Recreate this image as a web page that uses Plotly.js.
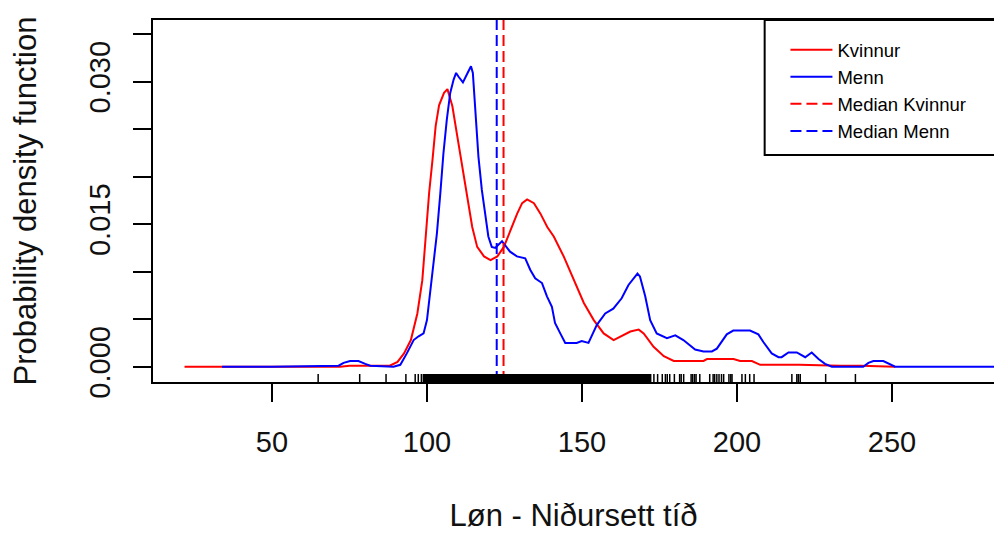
<!DOCTYPE html>
<html>
<head>
<meta charset="utf-8">
<script src="https://cdn.plot.ly/plotly-3.0.1.min.js"></script>
<style>html,body{margin:0;padding:0;background:#fff;overflow:hidden}</style>
</head>
<body>
<div id="chart" style="width:994px;height:536px"></div>
<script>
// Density of "Kvinnur" (women)
const kvinnurX = [21.8, 40, 60, 72, 75, 82, 88, 90.5, 92.6, 94.8, 96.9, 98.5, 99.6, 100.7, 101.8, 102.8, 103.9, 105.5, 106.6, 108.2, 109.8, 111.4, 113.0, 114.6, 116.2, 118.4, 120.5, 122.7, 124.8, 127.0, 129.1, 130.7, 132.3, 134.5, 136.6, 138.8, 140.9, 144.1, 147.4, 150.6, 153.8, 157.0, 160.2, 163.5, 165.6, 168.3, 169.9, 173.1, 176.4, 179.6, 189.2, 190.3, 198.9, 201.0, 204.8, 207.5, 220, 233.3, 240, 251.0];
const kvinnurY = [0, 0, 0, 0, 0.0001, 0.0001, 0.0001, 0.0005, 0.0014, 0.0028, 0.0056, 0.0091, 0.0140, 0.0183, 0.0218, 0.0253, 0.0275, 0.0288, 0.0292, 0.0274, 0.0242, 0.0211, 0.0179, 0.0147, 0.0126, 0.0116, 0.0112, 0.0116, 0.0126, 0.0144, 0.0161, 0.0172, 0.0176, 0.0172, 0.0161, 0.0147, 0.0137, 0.0116, 0.0091, 0.0067, 0.0049, 0.0035, 0.0028, 0.0033, 0.0037, 0.0039, 0.0035, 0.0021, 0.0011, 0.0006, 0.0006, 0.0008, 0.0008, 0.0006, 0.0006, 0.0002, 0.0002, 0.0001, 0.0001, 0];

// Density of "Menn" (men)
const mennX = [33.9, 50, 71.5, 73.1, 75.2, 77.9, 80.1, 81.7, 89.2, 91.4, 93.5, 95.7, 97.3, 98.9, 100.0, 101.0, 102.1, 103.2, 104.3, 105.3, 106.4, 107.5, 108.6, 109.4, 110.2, 111.6, 113.1, 114.2, 114.8, 115.6, 116.6, 117.7, 118.8, 119.8, 120.9, 122.0, 124.2, 125.2, 126.8, 129.0, 131.7, 133.3, 134.9, 137.1, 138.7, 140.3, 141.3, 143.0, 144.6, 148.3, 149.9, 152.1, 154.8, 157.5, 160.1, 162.8, 165.0, 167.9, 168.7, 170.4, 172.0, 174.1, 177.4, 180.1, 182.7, 186.5, 189.2, 191.9, 193.5, 196.7, 198.8, 204.2, 206.9, 208.5, 211.2, 213.4, 214.4, 216.6, 219.3, 222.0, 224.1, 226.3, 228.4, 230.6, 240.7, 242.4, 244.0, 247.2, 249.4, 251.0, 283];
const mennY = [0, 0, 0.0001, 0.0004, 0.0006, 0.0006, 0.0003, 0.0001, 0, 0.0002, 0.0014, 0.0028, 0.0032, 0.0035, 0.0049, 0.0077, 0.0105, 0.0140, 0.0182, 0.0224, 0.0260, 0.0288, 0.0302, 0.0309, 0.0305, 0.0299, 0.0309, 0.0316, 0.0309, 0.0274, 0.0221, 0.0186, 0.0158, 0.0137, 0.0126, 0.0125, 0.0132, 0.0128, 0.0121, 0.0116, 0.0114, 0.0102, 0.0093, 0.0088, 0.0074, 0.0063, 0.0046, 0.0035, 0.0025, 0.0025, 0.0027, 0.0025, 0.0044, 0.0056, 0.0061, 0.0072, 0.0086, 0.0098, 0.0095, 0.0074, 0.0049, 0.0035, 0.0030, 0.0033, 0.0028, 0.0018, 0.0016, 0.0016, 0.0019, 0.0034, 0.0038, 0.0038, 0.0034, 0.0026, 0.0014, 0.0010, 0.0010, 0.0015, 0.0015, 0.0010, 0.0015, 0.0008, 0.0003, 0, 0, 0.0004, 0.0006, 0.0006, 0.0003, 0, 0];

// Medians
const medianKvinnur = 124.7;
const medianMenn = 122.5;

// Rug: individual observations outside the dense band, and the dense band
const rugSingles = [64.9, 78.3, 86.8, 93.2, 96.2, 97.2, 98.2, 173.2, 174.4, 175.9, 176.9, 177.5, 178.3, 179.8, 181.5, 182.0, 182.8, 185.2, 185.7, 186.3, 186.8, 188.0, 191.2, 192.3, 192.8, 193.5, 194.2, 195.0, 195.7, 197.4, 198.0, 198.4, 201.6, 202.7, 204.1, 205.5, 217.7, 219.3, 219.8, 220.4, 228.6, 238.2];
const rugBand = [98.6, 172.4];

// Axis ticks
const xTicks = [50, 100, 150, 200, 250];
const yTicks = [0, 0.005, 0.010, 0.015, 0.020, 0.025, 0.030, 0.035];
const yTickText = ["0.000", "", "", "0.015", "", "", "0.030", ""];

const xRange = [11.63, 282.9];
const yRange = [-0.00161, 0.03647];
const FONT = "Liberation Sans, Arial, Helvetica, sans-serif";

const rugH = 8 / 362;
const shapes = [];
rugSingles.forEach(v => shapes.push({type: "line", xref: "x", yref: "paper", x0: v, x1: v, y0: 0, y1: rugH, line: {color: "black", width: 1.5}}));
shapes.push({type: "rect", xref: "x", yref: "paper", x0: rugBand[0], x1: rugBand[1], y0: 0, y1: rugH, fillcolor: "black", line: {width: 0}});
// legend box
shapes.push({type: "rect", xref: "paper", yref: "paper", x0: 0.7273, x1: 1.05, y0: 0.627, y1: 1, fillcolor: "rgba(0,0,0,0)", line: {color: "black", width: 2}});

const traces = [
  {x: kvinnurX, y: kvinnurY, type: "scatter", mode: "lines", name: "Kvinnur", line: {color: "#ff0000", width: 2}},
  {x: mennX, y: mennY, type: "scatter", mode: "lines", name: "Menn", line: {color: "#0000ff", width: 2}},
  {x: [medianKvinnur, medianKvinnur], y: yRange, type: "scatter", mode: "lines", name: "Median Kvinnur", line: {color: "#ff0000", width: 2, dash: "11px,5px"}, cliponaxis: true},
  {x: [medianMenn, medianMenn], y: yRange, type: "scatter", mode: "lines", name: "Median Menn", line: {color: "#0000ff", width: 2, dash: "11px,5px"}, cliponaxis: true}
];

const layout = {
  width: 994, height: 536,
  margin: {l: 153, r: 0, t: 20, b: 154, pad: 0},
  paper_bgcolor: "white", plot_bgcolor: "white",
  font: {family: FONT, color: "black"},
  showlegend: true,
  legend: {x: 0.752, y: 0.969, xanchor: "left", yanchor: "top", itemwidth: 42, font: {family: FONT, size: 18.5, color: "black"}, bgcolor: "rgba(0,0,0,0)", borderwidth: 0},
  xaxis: {
    range: xRange, tickmode: "array", tickvals: xTicks, ticktext: xTicks.map(String),
    ticks: "outside", ticklen: 18, tickwidth: 2, tickcolor: "black",
    showline: true, linewidth: 2, linecolor: "black", mirror: true,
    showgrid: false, zeroline: false,
    tickfont: {family: FONT, size: 29, color: "#111"},
    ticklabelstandoff: 15,
    title: {text: "Løn - Niðursett tíð", font: {family: FONT, size: 31, color: "#111"}, standoff: 48}
  },
  yaxis: {
    range: yRange, tickmode: "array", tickvals: yTicks, ticktext: yTickText,
    ticks: "outside", ticklen: 18, tickwidth: 2, tickcolor: "black",
    showline: true, linewidth: 2, linecolor: "black", mirror: false,
    showgrid: false, zeroline: false, tickangle: -90,
    tickfont: {family: FONT, size: 29, color: "#111"},
    ticklabelstandoff: 11,
    title: {text: "Probability density function", font: {family: FONT, size: 31, color: "#111"}, standoff: 39}
  },
  shapes: shapes
};

Plotly.newPlot("chart", traces, layout, {displayModeBar: false, staticPlot: true});
</script>
</body>
</html>
